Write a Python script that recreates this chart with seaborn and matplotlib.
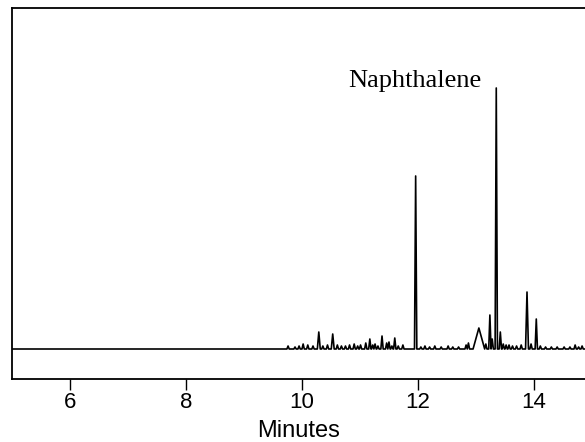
import pandas as pd
import matplotlib
matplotlib.use("Agg")
import matplotlib.pyplot as plt
import seaborn as sns

# run window (minutes)
run_start = 5.0
run_end = 14.88

# peaks: retention time (min), height (arb. units), half width (min)
peak_time = [9.76, 9.88, 9.95, 10.02, 10.10, 10.19, 10.29, 10.36, 10.44, 10.53,
             10.61, 10.68, 10.75, 10.82, 10.90, 10.96, 11.01, 11.10, 11.17, 11.22,
             11.26, 11.31, 11.38, 11.46, 11.50, 11.55, 11.60, 11.66, 11.74, 11.96,
             12.05, 12.12, 12.20, 12.29, 12.40, 12.52, 12.60, 12.70, 12.83, 12.87,
             13.05, 13.17, 13.24, 13.28, 13.35, 13.42, 13.47, 13.52, 13.57, 13.63,
             13.70, 13.78, 13.88, 13.95, 14.04, 14.11, 14.20, 14.30, 14.40, 14.52,
             14.62, 14.71, 14.77, 14.83]
peak_height = [3, 2, 3, 5, 4, 3, 17, 3, 4, 15,
               4, 3, 3, 4, 5, 3, 4, 6, 10, 4,
               5, 3, 13, 6, 7, 3, 11, 3, 4, 173,
               2, 3, 2, 3, 2, 3, 2, 2, 4, 6,
               21, 5, 34, 10, 261, 17, 5, 4, 4, 3,
               3, 4, 57, 5, 30, 3, 2, 2, 2, 2,
               2, 4, 2, 3]
peak_width = [0.02, 0.02, 0.02, 0.02, 0.02, 0.02, 0.025, 0.02, 0.02, 0.025,
              0.02, 0.02, 0.02, 0.02, 0.02, 0.02, 0.02, 0.02, 0.02, 0.02,
              0.02, 0.02, 0.02, 0.02, 0.02, 0.02, 0.02, 0.02, 0.02, 0.02,
              0.02, 0.02, 0.02, 0.02, 0.02, 0.02, 0.02, 0.02, 0.02, 0.02,
              0.10, 0.02, 0.02, 0.02, 0.02, 0.02, 0.02, 0.02, 0.02, 0.02,
              0.02, 0.02, 0.025, 0.02, 0.02, 0.02, 0.02, 0.02, 0.02, 0.02,
              0.02, 0.02, 0.02, 0.02]

x_ticks = [6, 8, 10, 12, 14]
label_peak = "Naphthalene"

# trace: flat baseline with a rise/fall for every peak
rows = [(run_start, 0.0)]
for t, h, w in zip(peak_time, peak_height, peak_width):
    rows += [(t - w, 0.0), (t, h), (t + w, 0.0)]
rows.append((run_end, 0.0))
trace = pd.DataFrame(rows, columns=["minutes", "signal"])

sns.set_style("white")
plt.rcParams["font.family"] = ["Liberation Sans", "DejaVu Sans"]
plt.rcParams["text.color"] = "black"
plt.rcParams["axes.labelcolor"] = "black"
plt.rcParams["xtick.color"] = "black"

fig = plt.figure(figsize=(5.85, 4.42), dpi=100)
ax = fig.add_axes([12 / 585, 62.7 / 442, 573 / 585, 371 / 442])

sns.lineplot(data=trace, x="minutes", y="signal", estimator=None, sort=False,
             color="black", linewidth=1.2, ax=ax)

ax.set_xlim(run_start, run_end)
ax.set_ylim(-30.3, 340.7)
ax.set_yticks([])
ax.set_xticks(x_ticks)
ax.set_xticklabels([str(v) for v in x_ticks])
ax.tick_params(axis="x", direction="out", length=8, width=1, pad=1,
               labelsize=16, color="black", labelcolor="black", bottom=True)
ax.set_xlabel("Minutes", fontsize=17, labelpad=5, color="black")
ax.set_ylabel("")

for side in ["left", "top", "bottom"]:
    ax.spines[side].set_color("black")
    ax.spines[side].set_linewidth(1.3)
ax.spines["right"].set_visible(False)

i = peak_time.index(13.35)
ax.text(peak_time[i] - 0.26, peak_height[i] + 1, label_peak, ha="right", va="baseline",
        fontsize=19, color="black", family=["Liberation Serif", "DejaVu Serif"])

fig.savefig("out.png", dpi=100)
